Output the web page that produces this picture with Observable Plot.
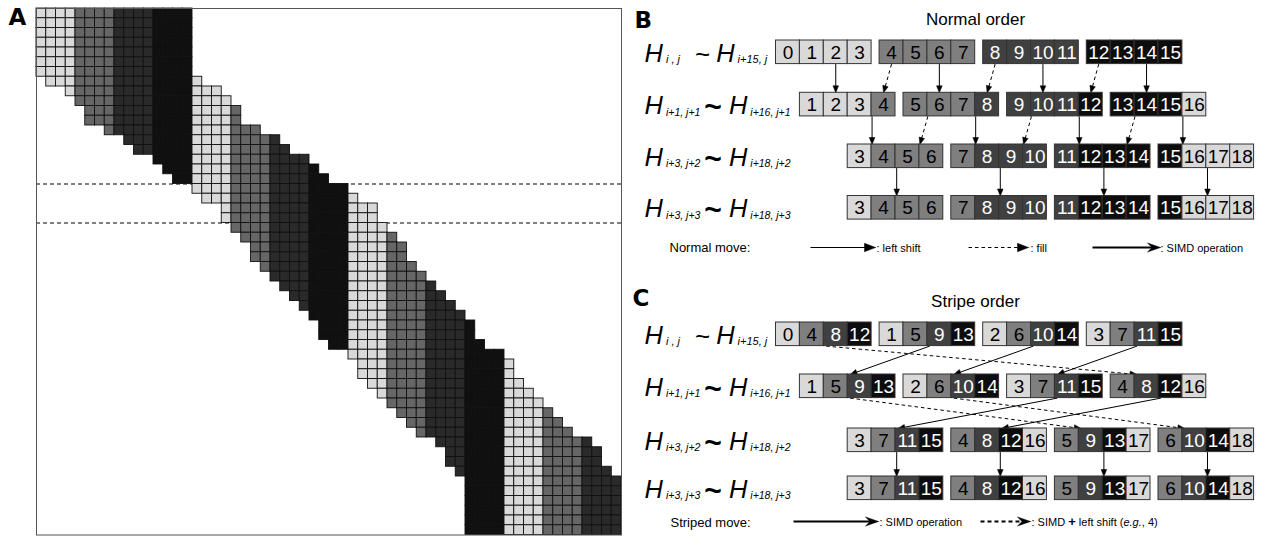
<!DOCTYPE html>
<html><head><meta charset="utf-8">
<script src="https://cdn.jsdelivr.net/npm/d3@7"></script>
<script src="https://cdn.jsdelivr.net/npm/@observablehq/plot@0.6"></script>
<style>
body{margin:0;background:#fff;}
#wrap{position:relative;width:1263px;height:537px;overflow:hidden;}
#a{position:absolute;left:0;top:0;}
#bc{position:absolute;left:625px;top:0;}
</style></head><body><div id="wrap"><div id="a"></div><div id="bc"></div></div>
<script>
// ---------------- DATA ----------------
// Panel A: first column of the 16-cell band in each of the 54 rows (60 columns wide)
const bandStart = [0,0,0,0,0,0,0,1,3,4,5,5,7,9,10,12,13,14,16,17,19,19,20,21,22,22,23,24,25,26,27,28,29,29,30,32,33,33,34,35,36,37,38,39,41,42,42,43,44,44,44,44,44,44];
const nCols = 60, bandWidth = 16;
const dashedRows = [18, 22];
const shadeA = ["#d9d9d9", "#666666", "#2a2a2a", "#101010"];
const shadeBC = ["#d9d9d9", "#7f7f7f", "#404040", "#0d0d0d"];

// Panel B (normal order): rows of 4 groups of 4 values
const normalGroups = [
  [[0,1,2,3],[4,5,6,7],[8,9,10,11],[12,13,14,15]],
  [[1,2,3,4],[5,6,7,8],[9,10,11,12],[13,14,15,16]],
  [[3,4,5,6],[7,8,9,10],[11,12,13,14],[15,16,17,18]],
  [[3,4,5,6],[7,8,9,10],[11,12,13,14],[15,16,17,18]]
];
// Panel C (stripe order)
const stripeGroups = [
  [[0,4,8,12],[1,5,9,13],[2,6,10,14],[3,7,11,15]],
  [[1,5,9,13],[2,6,10,14],[3,7,11,15],[4,8,12,16]],
  [[3,7,11,15],[4,8,12,16],[5,9,13,17],[6,10,14,18]],
  [[3,7,11,15],[4,8,12,16],[5,9,13,17],[6,10,14,18]]
];
const rowSubs = [["i , j","i+15, j"],["i+1, j+1","i+16, j+1"],["i+3, j+2","i+18, j+2"],["i+3, j+3","i+18, j+3"]];
// arrows: [fromRow, value, dashed]
const normalArrows = [[0,2,0],[0,4,1],[0,6,0],[0,8,1],[0,10,0],[0,12,1],[0,14,0],
  [1,4,0],[1,6,1],[1,8,0],[1,10,1],[1,12,0],[1,14,1],[1,16,0],
  [2,5,0],[2,9,0],[2,13,0],[2,17,0]];
const stripeArrows = [[0,8,1],[0,9,0],[0,10,0],[0,11,0],
  [1,9,1],[1,10,1],[1,11,0],[1,12,0],
  [2,11,0],[2,12,0],[2,13,0],[2,14,0]];
const titles = ["Normal order", "Stripe order"];
const panelLetters = ["A", "B", "C"];

// ---------------- LAYOUT ----------------
const FONT = "Liberation Sans, Arial, Helvetica, sans-serif";
const LETTER_FONT = "DejaVu Sans, Liberation Sans, sans-serif";
const ctx = document.createElement("canvas").getContext("2d");
function measure(t, size, style, weight) { ctx.font = `${style} ${weight} ${size}px ${FONT}`; return ctx.measureText(t).width; }
const runs = [];
function addRich(x, y, parts) {
  for (const p of parts) {
    const size = p.size, style = p.style || "normal", weight = p.weight || "normal";
    x += p.gap || 0;
    runs.push({x, y: y + (p.dy || 0), t: p.t, size, style, weight});
    x += measure(p.t, size, style, weight);
  }
  return x;
}

// ---------------- PANEL A ----------------
const cells = [];
bandStart.forEach((s, r) => {
  for (let c = s; c < Math.min(s + bandWidth, nCols); c++) cells.push({r, c, shade: Math.floor(c / 4) % 4});
});
const plotA = Plot.plot({
  width: 625, height: 537, marginLeft: 36, marginTop: 8, marginRight: 4, marginBottom: 2.5,
  x: {domain: [0, nCols], axis: null},
  y: {domain: [0, bandStart.length], axis: null, reverse: true},
  color: {type: "ordinal", domain: [0,1,2,3], range: shadeA},
  style: {fontFamily: FONT, background: "transparent", overflow: "visible"},
  marks: [
    Plot.ruleY(dashedRows, {stroke: "#000", strokeWidth: 1, strokeDasharray: "4,3"}),
    Plot.rect(cells, {x1: "c", x2: d => d.c + 1, y1: "r", y2: d => d.r + 1, fill: "shade", stroke: "#111", strokeWidth: 0.9}),
    Plot.frame({stroke: "#555", strokeWidth: 1}),
    Plot.text([panelLetters[0]], {frameAnchor: "top-left", dx: -28, dy: 0, textAnchor: "start", lineAnchor: "top", fontSize: 23, fontWeight: "bold", fontFamily: LETTER_FONT, fill: "#000"})
  ]
});
document.getElementById("a").appendChild(plotA);

// ---------------- PANELS B & C ----------------
const boxW = 23.9, boxH = 23.6, groupPitch = 103.6, rowX0 = 775.5;
const rowShift = [0, 1, 3, 3];
const panels = [
  {groups: normalGroups, arrows: normalArrows, tops: [40, 92.3, 144, 195.5], anchor: [0.5, 0.02, 0.05], title: titles[0], titleY: 24, letter: panelLetters[1], letterY: 27},
  {groups: stripeGroups, arrows: stripeArrows, tops: [322, 374, 428, 476], anchor: [0.1, 0.1, 0.05], title: titles[1], titleY: 306, letter: panelLetters[2], letterY: 305}
];
const boxes = [], arrowLines = [], heads = [], letters = [];
let headId = 0;
function head(x1, y1, x2, y2, len, hw, dart) {
  const L = Math.hypot(x2 - x1, y2 - y1), ux = (x2 - x1) / L, uy = (y2 - y1) / L, px = -uy, py = ux;
  const bx = x2 - ux * len, by = y2 - uy * len, id = headId++;
  const pts = [[x2, y2], [bx + px * hw, by + py * hw]];
  if (dart) pts.push([x2 - ux * len * 0.65, y2 - uy * len * 0.65]);
  pts.push([bx - px * hw, by - py * hw], [x2, y2]);
  pts.forEach(([x, y]) => heads.push({id, x, y}));
  return [x2 - ux * len * 0.6, y2 - uy * len * 0.6];
}
panels.forEach((P, pi) => {
  const pos = {}; // pos[row][value] = left
  P.groups.forEach((row, r) => {
    pos[r] = {};
    row.forEach((grp, g) => grp.forEach((v, k) => {
      const x = rowX0 + rowShift[r] * boxW + g * groupPitch + k * boxW;
      pos[r][v] = x;
      boxes.push({x, y: P.tops[r], v, shade: Math.floor(v / 4) % 4});
    }));
    const base = P.tops[r] + boxH / 2 + 9.5;
    addRich(644, base, [
      {t: "H", size: 25.5, style: "italic"},
      {t: rowSubs[r][0], size: r === 0 ? 11 : 10.5, style: "italic", gap: 3, dy: 1.5},
      {t: "~", size: r === 0 ? 26 : 30, weight: r === 0 ? "normal" : "bold", gap: r === 0 ? 15 : 4, dy: r === 0 ? 1 : 3},
      {t: "H", size: 25.5, style: "italic", gap: r === 0 ? 6 : 7},
      {t: rowSubs[r][1], size: r === 0 ? 11 : 10.5, style: "italic", gap: 3, dy: 1.5}
    ]);
  });
  P.arrows.forEach(([r, v, dashed]) => {
    const a = P.anchor[r];
    const x1 = pos[r][v] + a * boxW, y1 = P.tops[r] + boxH;
    const x2 = pos[r + 1][v] + a * boxW, y2 = P.tops[r + 1];
    const [ex, ey] = head(x1, y1, x2, y2, 7, 2.8, false);
    arrowLines.push({x1, y1, x2: ex, y2: ey, dashed, w: 1});
  });
  letters.push({x: 634 - (pi ? 2 : 0), y: P.letterY, t: P.letter});
  runs.push({x: 975 - measure(P.title, 17, "normal", "normal") / 2, y: P.titleY, t: P.title, size: 17, style: "normal", weight: "normal"});
});

// legends
const legendB = 247, legendC = 521;
addRich(669, legendB + 4.5, [{t: "Normal move:", size: 13}]);
head(810, legendB, 875, legendB, 11, 4.2, false); arrowLines.push({x1: 810, y1: legendB, x2: 868, y2: legendB, dashed: 0, w: 1});
addRich(876, legendB + 4, [{t: ": left shift", size: 11}]);
head(968, legendB, 1028, legendB, 11, 4.2, false); arrowLines.push({x1: 968, y1: legendB, x2: 1021, y2: legendB, dashed: 1, w: 1});
addRich(1030, legendB + 4, [{t: ": fill", size: 11}]);
head(1092, legendB, 1160, legendB, 13, 4.5, true); arrowLines.push({x1: 1092, y1: legendB, x2: 1153, y2: legendB, dashed: 0, w: 2.2});
addRich(1160, legendB + 4, [{t: ": SIMD operation", size: 11}]);
addRich(670, legendC + 5, [{t: "Striped move:", size: 13}]);
head(793, legendC, 878, legendC, 13, 4.5, true); arrowLines.push({x1: 793, y1: legendC, x2: 871, y2: legendC, dashed: 0, w: 2.2});
addRich(879, legendC + 4, [{t: ": SIMD operation", size: 11}]);
head(980, legendC, 1030, legendC, 13, 4.5, true); arrowLines.push({x1: 980, y1: legendC, x2: 1023, y2: legendC, dashed: 2, w: 2});
addRich(1031, legendC + 4, [
  {t: ": SIMD ", size: 11}, {t: "+", size: 13, weight: "bold"}, {t: " left shift (", size: 11},
  {t: "e.g.", size: 11, style: "italic"}, {t: ", 4)", size: 11}
]);

const textMarks = [];
const combos = d3.groups(runs, d => d.style + "|" + d.weight);
for (const [key, rs] of combos) {
  const [fontStyle, fontWeight] = key.split("|");
  textMarks.push(Plot.text(rs, {x: "x", y: "y", text: "t", fontSize: "size", fontStyle, fontWeight, textAnchor: "start", lineAnchor: "bottom", fill: "#000"}));
}

const plotBC = Plot.plot({
  width: 638, height: 537, margin: 0,
  x: {domain: [625, 1263], axis: null},
  y: {domain: [0, 537], axis: null, reverse: true},
  color: {type: "ordinal", domain: [0,1,2,3], range: shadeBC},
  style: {fontFamily: FONT, background: "transparent", overflow: "visible"},
  marks: [
    Plot.link(arrowLines.filter(d => d.dashed === 0), {x1: "x1", y1: "y1", x2: "x2", y2: "y2", stroke: "#000", strokeWidth: "w"}),
    Plot.link(arrowLines.filter(d => d.dashed === 1), {x1: "x1", y1: "y1", x2: "x2", y2: "y2", stroke: "#000", strokeWidth: 1, strokeDasharray: "3.5,3"}),
    Plot.link(arrowLines.filter(d => d.dashed === 2), {x1: "x1", y1: "y1", x2: "x2", y2: "y2", stroke: "#000", strokeWidth: 2, strokeDasharray: "4,3"}),
    Plot.line(heads, {x: "x", y: "y", z: "id", fill: "#000", stroke: "#000", strokeWidth: 0.5, curve: "linear"}),
    Plot.rect(boxes, {x1: "x", x2: d => d.x + boxW, y1: "y", y2: d => d.y + boxH, fill: "shade", stroke: "#333", strokeWidth: 1}),
    Plot.text(boxes, {x: d => d.x + boxW / 2, y: d => d.y + boxH / 2 + 0.5, text: "v", fontSize: 19, lineAnchor: "middle", fill: d => d.shade >= 2 ? "#fff" : "#000"}),
    Plot.text(letters, {x: "x", y: "y", text: "t", fontSize: 23, fontWeight: "bold", fontFamily: LETTER_FONT, textAnchor: "start", lineAnchor: "bottom", fill: "#000"}),
    ...textMarks
  ]
});
document.getElementById("bc").appendChild(plotBC);
</script></body></html>
